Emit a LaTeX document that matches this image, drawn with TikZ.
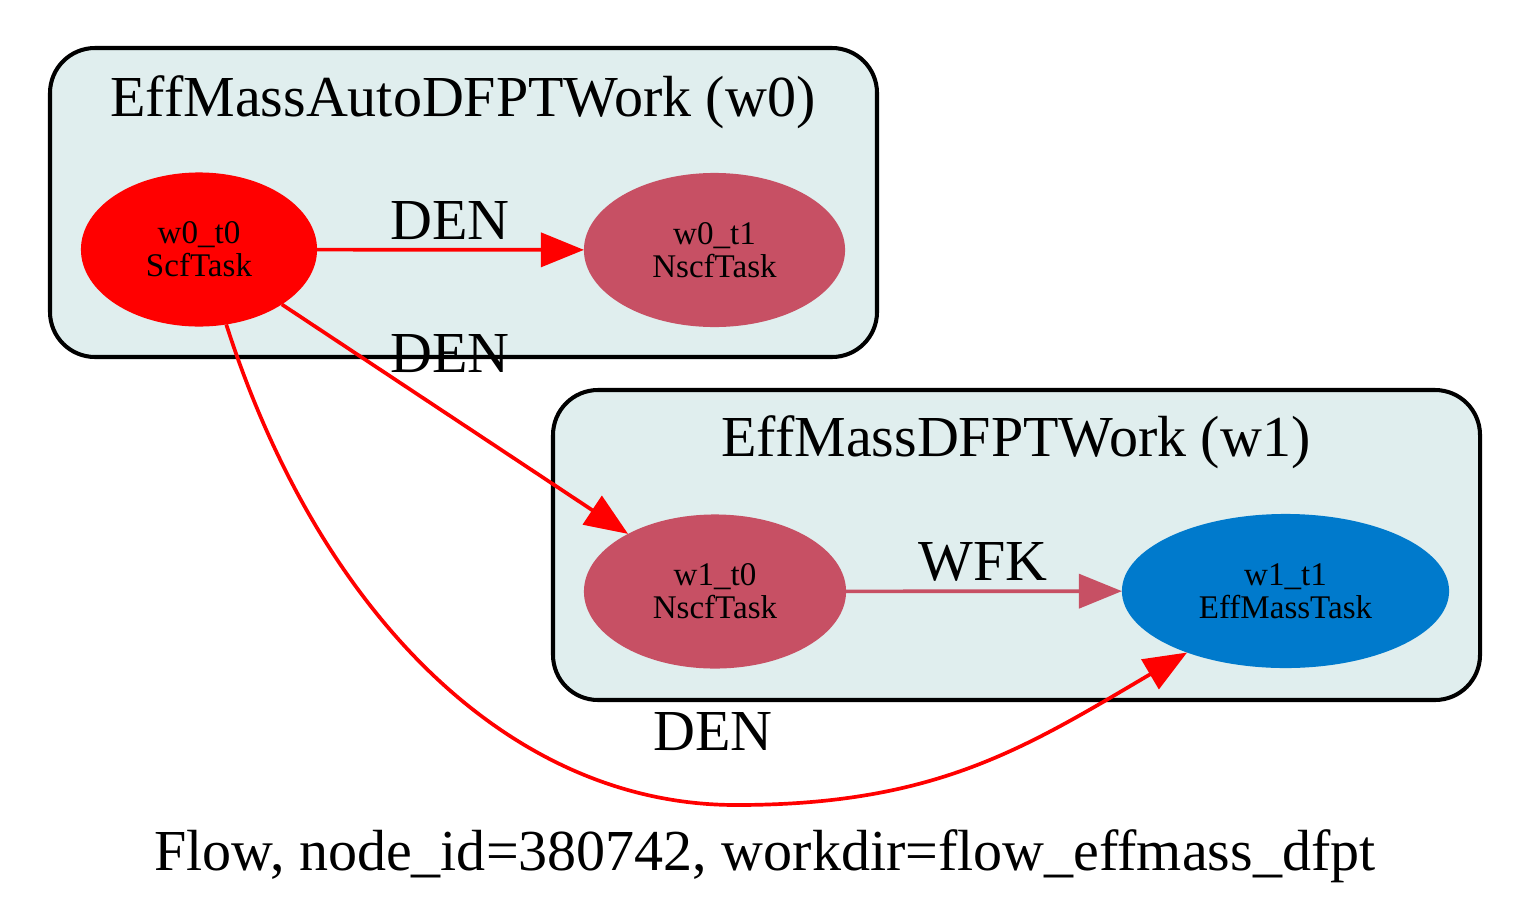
\documentclass[tikz,border=0pt]{standalone}
\usepackage{fontspec}
\setmainfont{Liberation Serif}
\usetikzlibrary{arrows.meta,shapes.geometric}
\definecolor{clusterfill}{HTML}{E0EEEE}
\definecolor{nscfred}{HTML}{C75064}
\definecolor{effblue}{HTML}{007ACC}

\begin{document}
\begin{tikzpicture}[x=0.01cm, y=-0.01cm,
    every path/.style={line width=1.05pt},
    cluster/.style={draw=black, fill=clusterfill, line width=1.15pt, rounded corners=0.45cm},
    task/.style={ellipse, inner sep=0pt, outer sep=0pt, align=center, minimum height=1.54cm, font=\fontsize{9.4}{9.4}\selectfont},
    big/.style={anchor=base, inner sep=0pt, font=\fontsize{16.5}{19}\selectfont},
    edge/.style={-{Triangle[length=0.43cm, width=0.34cm]}}]

            \useasboundingbox (0,0) rectangle (1531,915);

            % Clusters
            \draw[cluster] (50,48) rectangle (877,357);
            \draw[cluster] (553,390) rectangle (1480,700);

            % Nodes
            \node[task, fill=red, minimum width=2.36cm] at (199,249.5) (T00) {w0\_t0\\ScfTask};
            \node[task, fill=nscfred, minimum width=2.61cm] at (714.5,250) (T01) {w0\_t1\\NscfTask};
            \node[task, fill=nscfred, minimum width=2.62cm] at (715,591.5) (T10) {w1\_t0\\NscfTask};
            \node[task, fill=effblue, minimum width=3.27cm] at (1285.5,591) (T11) {w1\_t1\\EffMassTask};

            % Lines
            \draw[edge, red] (T00) -- (T01);
            \draw[edge, red] (T00) -- (T10);
            \draw[edge, nscfred] (T10) -- (T11);
            \draw[edge, red] (T00.290.7) .. controls (317,608) and (506,805) .. (736,805)
                .. controls (936,805) and (1025,748) .. (T11.212);

            % Labels
            \node[big] at (450,239) (L1) {DEN};
            \node[big] at (450,372) (L2) {DEN};
            \node[big] at (983,580) (L3) {WFK};
            \node[big] at (713,750) (L4) {DEN};

            % Titles
            \node[big] at (463,116) (W0) {EffMassAutoDFPTWork (w0)};
            \node[big] at (1016,456) (W1) {EffMassDFPTWork (w1)};
            \node[big] at (765,870) (cap) {Flow, node\_id=380742, workdir=flow\_effmass\_dfpt};

        \end{tikzpicture}
\end{document}
